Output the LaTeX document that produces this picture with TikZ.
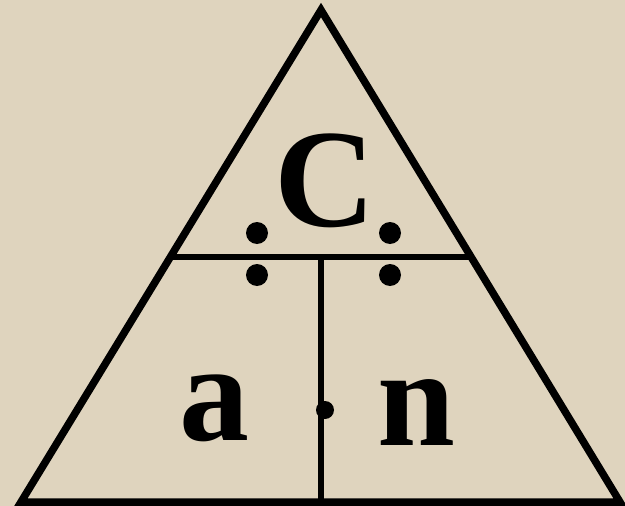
\documentclass[tikz,border=0pt]{standalone}
\usepackage{fontspec}
\newfontfamily\timesbold{Liberation Serif Bold}
\definecolor{parch}{HTML}{DFD4BE}
\begin{document}
\begin{tikzpicture}[x=1pt,y=-1pt,
  edge/.style={line width=7.5pt,line join=miter},
  divline/.style={line width=6pt},
  letter/.style={font=\timesbold\fontsize{140}{140}\selectfont,inner sep=0pt,anchor=base},
  bigdot/.style={fill=black,circle,inner sep=0pt,minimum size=22pt},
  smalldot/.style={fill=black,circle,inner sep=0pt,minimum size=18pt}]
\fill[parch] (0,0) rectangle (625,506);
\useasboundingbox (0,0) rectangle (625,506);
\coordinate (apex) at (321,10);
\coordinate (bl) at (21,502);
\coordinate (br) at (620,502);
\coordinate (hl) at (173,257);
\coordinate (hr) at (469,257);
\coordinate (vt) at (321,257);
\coordinate (vb) at (321,502);
\draw[divline] (hl) -- (hr);
\draw[divline] (vt) -- (vb);
\draw[edge] (bl) -- (apex) -- (br) -- cycle;
\node[letter] (c) at (325,226) {C};
\node[letter] (a) at (214,440) {a};
\node[letter] (n) at (416,445) {n};
\node[bigdot] (d1) at (257,233) {};
\node[bigdot] (d2) at (257,275) {};
\node[bigdot] (d3) at (390,233) {};
\node[bigdot] (d4) at (390,275) {};
\node[smalldot] (m) at (325,410) {};
\end{tikzpicture}
\end{document}
